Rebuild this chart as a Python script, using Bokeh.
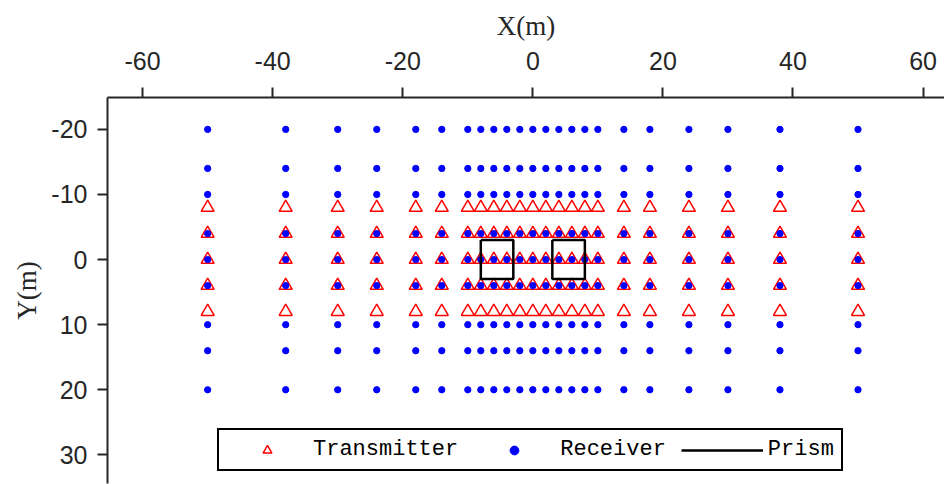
from bokeh.plotting import figure
from bokeh.models import Range1d, FixedTicker, Legend, LegendItem
from bokeh.embed import file_html
from bokeh.resources import INLINE

# ---- data ----
x_columns = [-50, -38, -30, -24, -18, -14, -10, -8, -6, -4, -2, 0, 2, 4, 6, 8, 10,
             14, 18, 24, 30, 38, 50]
receiver_rows = [-20, -14, -10, -4, 0, 4, 10, 14, 20]
transmitter_rows = [-8, -4, 0, 4, 8]
prism_x0 = [-8, 3]
prism_x1 = [-3, 8]
prism_y0 = [-3, -3]
prism_y1 = [3, 3]
x_ticks = [-60, -40, -20, 0, 20, 40, 60]
y_ticks = [-20, -10, 0, 10, 20, 30]
x_tick_labels = ["-60", "-40", "-20", "0", "20", "40", "60"]
y_tick_labels = ["-20", "-10", "0", "10", "20", "30"]

rx = [x for x in x_columns for y in receiver_rows]
ry = [y for x in x_columns for y in receiver_rows]
tx = [x for x in x_columns for y in transmitter_rows]
ty = [y for x in x_columns for y in transmitter_rows]
pxs = [[a, b, b, a, a] for a, b in zip(prism_x0, prism_x1)]
pys = [[c, c, d, d, c] for c, d in zip(prism_y0, prism_y1)]

AX = "#262626"

p = figure(width=944, height=484, output_backend="svg", toolbar_location=None,
           x_range=Range1d(-65.4, 63.3), y_range=Range1d(34.4, -24.9),
           x_axis_location="above", y_axis_location="left",
           min_border_left=107, min_border_top=97, min_border_right=0, min_border_bottom=1)
p.outline_line_color = None
p.grid.visible = False
p.background_fill_color = "white"

tr = p.scatter(tx, ty, marker="triangle", size=13, fill_color="white", fill_alpha=0,
               line_color="red", line_width=1.5)
rc = p.scatter(rx, ry, marker="circle", size=6.3, fill_color="blue", line_color="blue")
pr = p.multi_line(pxs, pys, line_color="black", line_width=2.5)

for ax in (p.xaxis[0], p.yaxis[0]):
    ax.axis_line_color = AX
    ax.axis_line_width = 2
    ax.major_tick_line_color = AX
    ax.major_tick_line_width = 2
    ax.major_tick_out = 10
    ax.major_tick_in = 0
    ax.minor_tick_line_color = None
    ax.major_label_text_font = "Liberation Sans"
    ax.major_label_text_font_size = "25px"
    ax.major_label_text_color = AX
    ax.axis_label_text_font = "Liberation Serif"
    ax.axis_label_text_font_size = "27px"
    ax.axis_label_text_font_style = "normal"
    ax.axis_label_text_color = AX

p.xaxis.ticker = FixedTicker(ticks=x_ticks)
p.yaxis.ticker = FixedTicker(ticks=y_ticks)
p.xaxis.major_label_overrides = dict(zip(x_ticks, x_tick_labels))
p.yaxis.major_label_overrides = dict(zip(y_ticks, y_tick_labels))
p.xaxis.axis_label = "X(m)"
p.yaxis.axis_label = "Y(m)"
p.xaxis.major_label_standoff = 18
p.yaxis.major_label_standoff = 10
p.xaxis.axis_label_standoff = 8
p.yaxis.axis_label_standoff = 6

legend = Legend(items=[LegendItem(label="Transmitter", renderers=[tr]),
                       LegendItem(label="Receiver", renderers=[rc]),
                       LegendItem(label="Prism", renderers=[pr])],
                orientation="horizontal", location=(110, 12), margin=0,
                glyph_width=82, glyph_height=22, label_standoff=5, spacing=15,
                padding=7, label_text_font="Liberation Mono", label_text_font_size="22px",
                label_text_color="black", border_line_color="black", border_line_width=2.5,
                border_line_alpha=1, background_fill_color="white", background_fill_alpha=1)
p.add_layout(legend)

open("out.html", "w").write(file_html(p, INLINE))
